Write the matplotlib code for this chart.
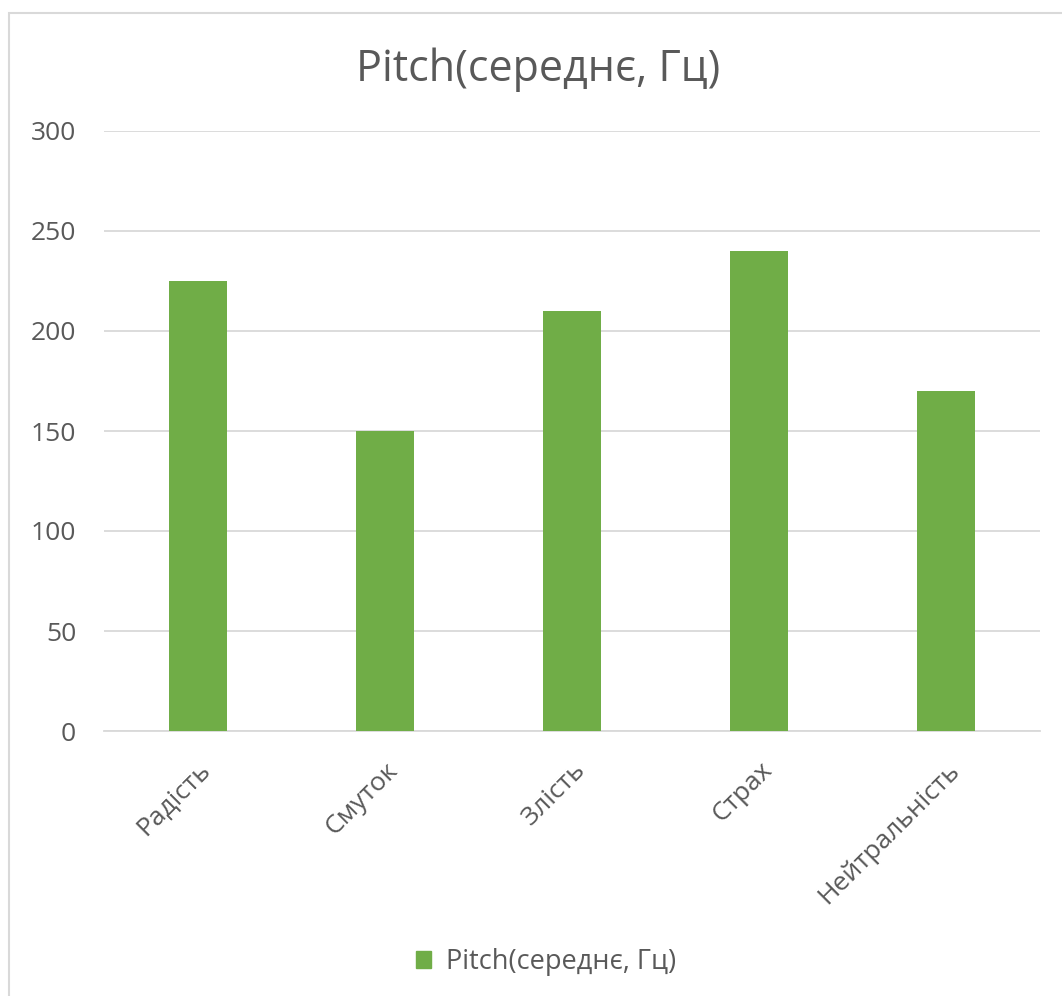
import matplotlib
matplotlib.use("Agg")
import matplotlib.pyplot as plt
from matplotlib.patches import Rectangle, Patch

categories = ["Радість", "Смуток", "Злість", "Страх", "Нейтральність"]
values = [225, 150, 210, 240, 170]
series_name = "Pitch(середнє, Гц)"
yticks = [0, 50, 100, 150, 200, 250, 300]

plt.rcParams['font.family'] = ['Open Sans', 'DejaVu Sans']
W, H = 1062, 996
fig = plt.figure(figsize=(W/100, H/100), dpi=100)
txt = '#595959'
green = '#70ad47'

# outer chart border
fig.patches.append(Rectangle((9/W, -0.1), 1.2, 1 - 13/H + 0.1, transform=fig.transFigure,
                             fill=False, edgecolor='#d9d9d9', linewidth=1.5))

ax = fig.add_axes([104/W, 1 - 731/H, (1040-104)/W, (731-131)/H])
x = list(range(len(categories)))
ax.bar(x, values, width=0.31, color=green, zorder=3)
ax.set_xlim(-0.5, len(categories) - 0.5)
ax.set_ylim(0, 300)
ax.set_yticks(yticks)
ax.set_yticklabels([str(t) for t in yticks], fontsize=19, color=txt)
ax.set_xticks(x)
ax.set_xticklabels(categories, rotation=45, ha='right', rotation_mode='anchor',
                   fontsize=19, color=txt)
ax.tick_params(axis='x', length=0, pad=19)
ax.tick_params(axis='y', length=0, pad=20)
ax.grid(axis='y', color='#d9d9d9', linewidth=1.3, zorder=0)
for s in ['top', 'right', 'left']:
    ax.spines[s].set_visible(False)
ax.spines['bottom'].set_color('#d9d9d9')
ax.spines['bottom'].set_linewidth(1.3)

fig.text(538/W, 1 - 70/H, series_name, ha='center', va='center', fontsize=31, color=txt)

fig.legend(handles=[Patch(color=green, label=series_name)], loc='center',
           bbox_to_anchor=(546/W, 1 - 962/H), frameon=False, fontsize=19.5,
           labelcolor=txt, handlelength=0.55, handleheight=0.6, handletextpad=0.55)

fig.savefig("out.png", dpi=100, facecolor='white')
